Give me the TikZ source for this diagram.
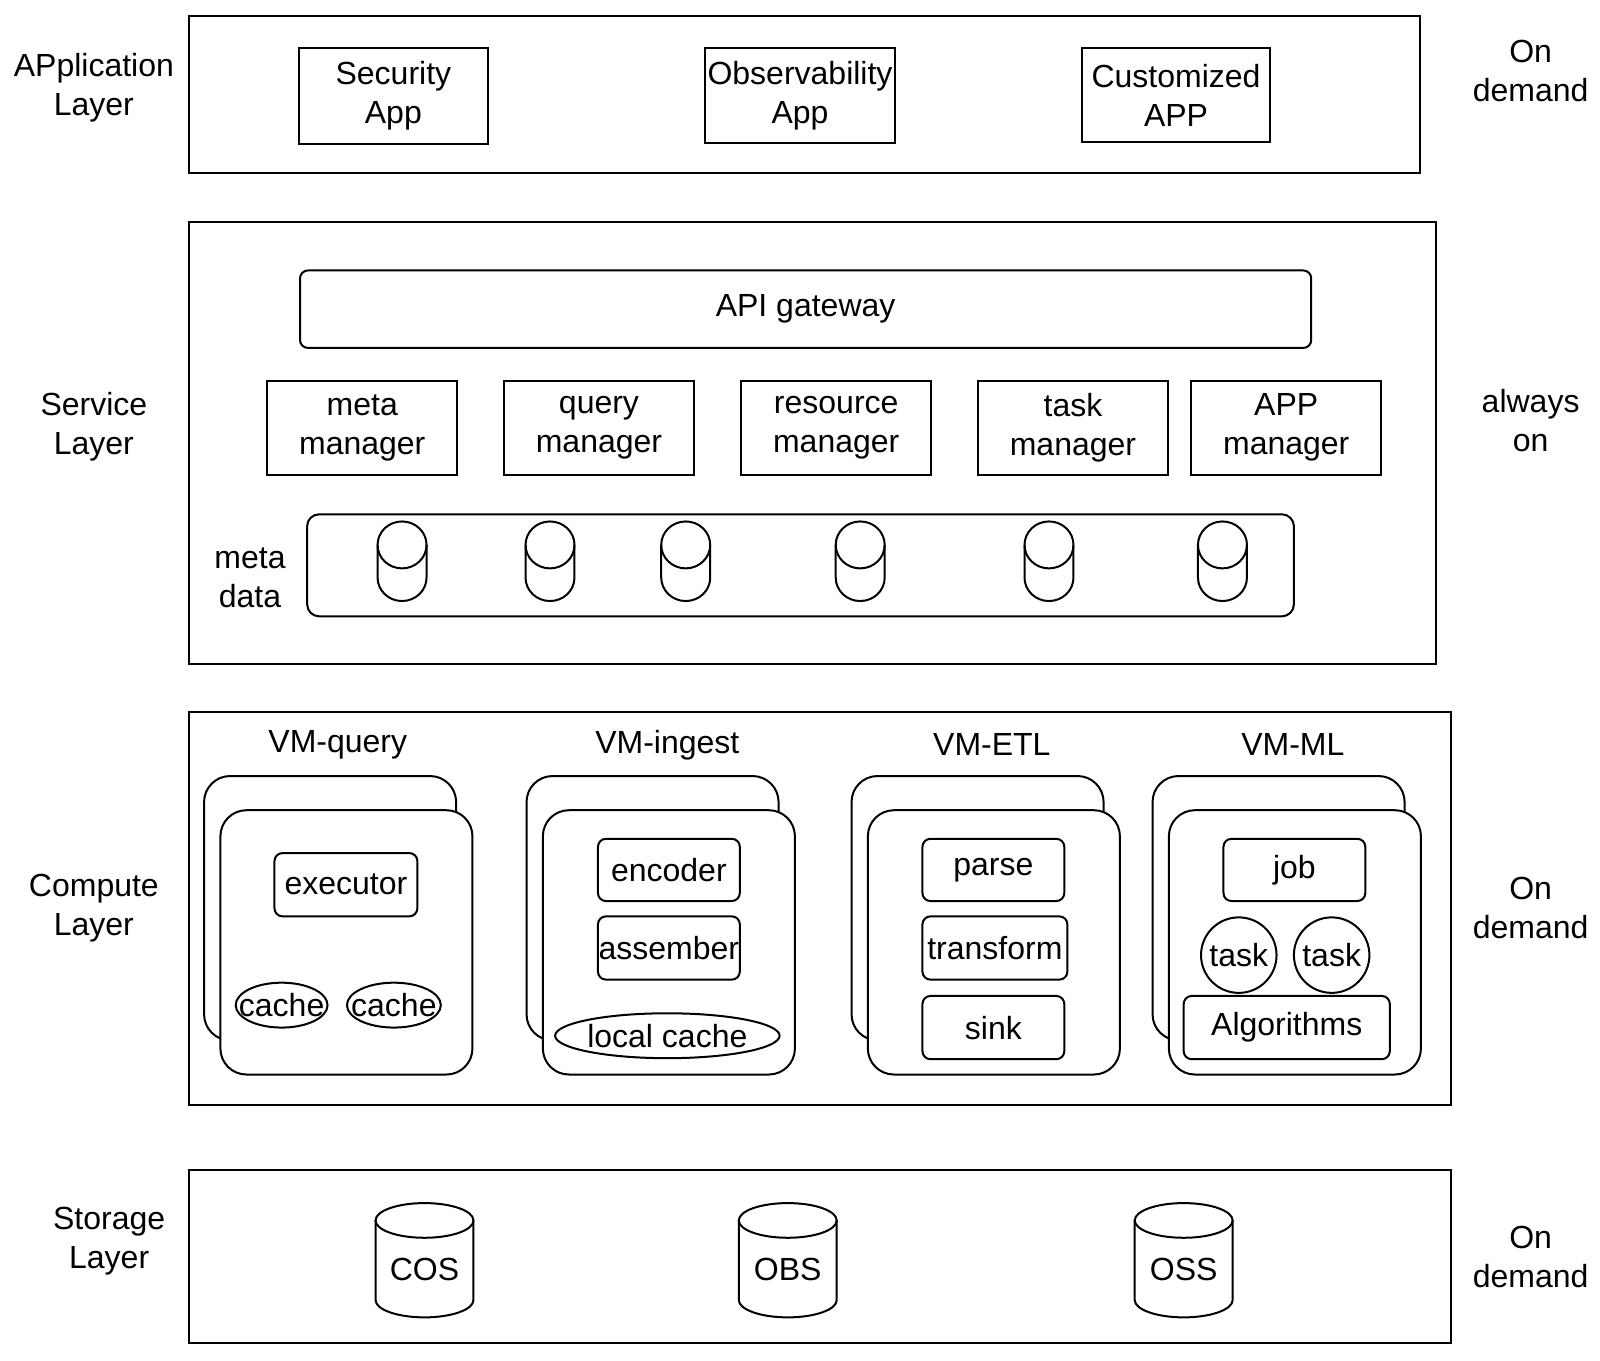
\documentclass[tikz,border=0pt]{standalone}
\usepackage{fontspec}
\setmainfont{Liberation Sans}
\usepackage{tikz}
\usetikzlibrary{shapes.geometric}

\tikzset{
  sz/.style 2 args={minimum width=#1*0.5102pt, minimum height=#2*0.5102pt},
  plain/.style={draw, inner sep=0pt, align=center},
  soft/.style={plain, rounded corners=4pt},
  vmbox/.style={draw, fill=white, rounded corners=13pt, sz={247}{259}},
  blob/.style={draw, ellipse, inner sep=0pt},
  side/.style={align=center}
}

\begin{document}
\begin{tikzpicture}[x=0.5102pt, y=0.5102pt, line width=1pt,
    font=\fontsize{16}{19.5}\selectfont]
  \useasboundingbox (0,0) rectangle (1568,-1333);

  % Layers
  \node[plain, sz={1207}{154}] (applayer) at (788.5,-93) {};
  \node[plain, sz={1222}{433}] (svclayer) at (796,-434.5) {};
  \node[plain, sz={1237}{385}] (cmplayer) at (803.5,-890.5) {};
  \node[plain, sz={1237}{169}] (stolayer) at (803.5,-1231.5) {};

  % Side labels
  \node[side] (applbl) at (92,-86) {APplication\\Layer};
  \node[side] (svclbl) at (92,-418) {Service\\Layer};
  \node[side] (cmplbl) at (92,-890) {Compute\\Layer};
  \node[side] (stolbl) at (107,-1216) {Storage\\Layer};
  \node[side] (appmode) at (1500,-70) {On\\demand};
  \node[side] (svcmode) at (1500,-412) {always\\on};
  \node[side] (cmpmode) at (1500,-890) {On\\demand};
  \node[side] (stomode) at (1500,-1232) {On\\demand};

  % Application layer
  \node[plain, sz={185}{94}] (secapp) at (385.5,-94) {Security\\App};
  \node[plain, sz={186}{93}] (obsapp) at (784,-93.5) {Observability\\App};
  \node[plain, sz={185}{92}] (cusapp) at (1152.5,-93) {Customized\\APP};

  % Service layer
  \node[soft, sz={991}{76}] (gateway) at (789.5,-303) {API gateway};
  \node[plain, sz={186}{92}] (metamgr) at (355,-419) {meta\\manager};
  \node[plain, sz={186}{92}] (querymgr) at (587,-419) {query\\manager};
  \node[plain, sz={186}{92}] (resmgr) at (819.5,-419) {resource\\manager};
  \node[plain, sz={186}{92}] (taskmgr) at (1051.5,-419) {task\\manager};
  \node[plain, sz={186}{92}] (appmgr) at (1260.5,-419) {APP\\manager};

  \node[side] (metalbl) at (245,-566) {meta\\data};
  \node[soft, rounded corners=6pt, sz={967}{100}] (metarail) at (784.5,-554) {};
  \foreach \x [count=\i] in {394, 539, 672, 843, 1028, 1198} {
    \coordinate (md\i) at (\x,-550);
    \draw (\x-24,-534) -- (\x-24,-566)
      arc[start angle=180, end angle=360, x radius=24, y radius=23] -- (\x+24,-534);
    \draw (\x,-534) ellipse[x radius=24, y radius=23];
  }

  % Compute layer
  \node (vmq) at (331,-730) {VM-query};
  \node (vmi) at (654,-730) {VM-ingest};
  \node (vme) at (972,-730) {VM-ETL};
  \node (vmm) at (1267,-730) {VM-ML};
  \foreach \x/\nm in {339.5/q, 655.5/i, 974/e, 1269/m} {
    \node[vmbox] (back\nm) at (\x-16,-890) {};
    \node[vmbox] (front\nm) at (\x,-923.5) {};
  }

  \node[soft, sz={140}{62}] (executor) at (339,-867) {executor};
  \node[blob, sz={90}{44}, label=center:cache] (cacheA) at (276,-985) {};
  \node[blob, sz={92}{44}, label=center:cache] (cacheB) at (386,-985) {};

  \node[soft, sz={139}{61}] (encoder) at (655.5,-852.5) {encoder};
  \node[soft, sz={139}{62}] (assember) at (655.5,-929) {assember};
  \node[blob, sz={220}{44}, label=center:local cache] (localcache) at (654,-1015) {};

  \node[soft, sz={139}{61}] (parse) at (973.5,-852.5) {parse};
  \node[soft, sz={142}{62}] (transform) at (975,-929) {transform};
  \node[soft, sz={139}{62}] (sink) at (973.5,-1007) {sink};

  \node[soft, sz={139}{61}] (job) at (1268.5,-852.5) {job};
  \node[draw, circle, inner sep=0pt, sz={74}{74}] (taskA) at (1214,-936) {task};
  \node[draw, circle, inner sep=0pt, sz={74}{74}] (taskB) at (1305,-936) {task};
  \node[soft, sz={202}{62}] (algos) at (1261,-1007) {Algorithms};

  % Storage layer
  \foreach \x/\nm/\txt in {416/cos/COS, 772/obs/OBS, 1160/oss/OSS} {
    \draw (\x-48,-1196) -- (\x-48,-1274)
      arc[start angle=180, end angle=360, x radius=48, y radius=17] -- (\x+48,-1196);
    \draw (\x,-1196) ellipse[x radius=48, y radius=17];
    \node (\nm) at (\x,-1244) {\txt};
  }
\end{tikzpicture}
\end{document}
